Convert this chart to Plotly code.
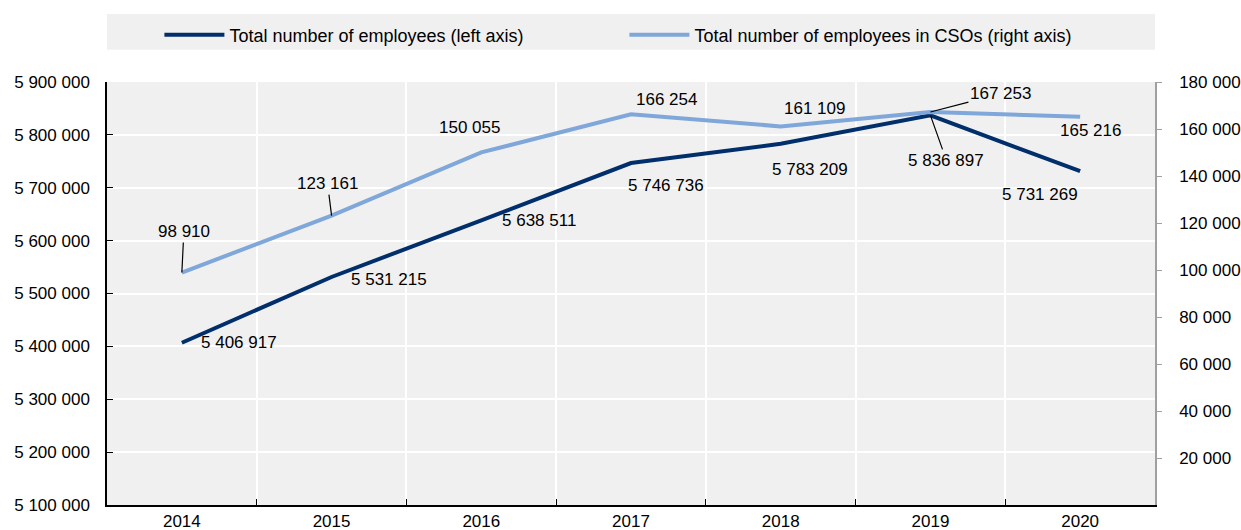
import plotly.graph_objects as go

# Data
years = ["2014", "2015", "2016", "2017", "2018", "2019", "2020"]
total_employees = [5406917, 5531215, 5638511, 5746736, 5783209, 5836897, 5731269]
cso_employees = [98910, 123161, 150055, 166254, 161109, 167253, 165216]

left_ticks = [5100000, 5200000, 5300000, 5400000, 5500000, 5600000, 5700000, 5800000, 5900000]
right_ticks = [20000, 40000, 60000, 80000, 100000, 120000, 140000, 160000, 180000]

# Style
DARK = "#002F6C"
LIGHT = "#7FA7D9"
BG = "#F0F0F0"
FONT = "Liberation Sans, Arial, sans-serif"
FS = 17

# Label placement (pixel offsets, screen coords: +dx right, +dy down); leader = draw a connector
total_label_style = [
    (57, 0, False), (57, 2, False), (58, 0, False), (35, 22, False),
    (29, 26, False), (16, 45, True), (-40, 23, False),
]
cso_label_style = [
    (2, -41, True), (-4, -32, True), (-12, -25, False), (35, -15, False),
    (34, -18, False), (70, -18, True), (10, 14, False),
]


def fmt(v):
    return f"{v:,}".replace(",", " ")


xpos = list(range(len(years)))
boundaries = [i + 0.5 for i in xpos[:-1]]

fig = go.Figure()
fig.add_trace(go.Scatter(
    x=xpos, y=total_employees, mode="lines", name="Total number of employees (left axis)",
    line=dict(color=DARK, width=4), yaxis="y",
))
fig.add_trace(go.Scatter(
    x=xpos, y=cso_employees, mode="lines", name="Total number of employees in CSOs (right axis)",
    line=dict(color=LIGHT, width=4), yaxis="y2",
))

annotations = []
for series, yref, style in ((total_employees, "y", total_label_style),
                            (cso_employees, "y2", cso_label_style)):
    for xi, v, (dx, dy, leader) in zip(xpos, series, style):
        ann = dict(x=xi, y=v, xref="x", yref=yref, text=fmt(v),
                   font=dict(family=FONT, size=FS, color="black"))
        if leader:
            ann.update(showarrow=True, arrowhead=0, arrowwidth=1.2, arrowcolor="black",
                       ax=dx, ay=dy)
        else:
            ann.update(showarrow=False, xshift=dx, yshift=-dy)
        annotations.append(ann)

fig.update_layout(
    width=1241, height=530,
    margin=dict(l=107, r=86, t=82, b=25),
    paper_bgcolor="white", plot_bgcolor=BG,
    separators=". ",
    font=dict(family=FONT, size=FS, color="black"),
    showlegend=True,
    legend=dict(
        orientation="h", x=0.05, xanchor="left", y=1.155, yanchor="top",
        bgcolor="rgba(0,0,0,0)", itemwidth=60, entrywidth=390, entrywidthmode="pixels",
        font=dict(family=FONT, size=18, color="black"), itemclick=False,
    ),
    shapes=[dict(
        type="rect", xref="paper", yref="paper", x0=0, x1=1, y0=1.076, y1=1.161,
        fillcolor=BG, line=dict(width=0), layer="below",
    )],
    xaxis=dict(
        range=[-0.5, 6.5], tickvals=xpos, ticktext=years, automargin=False,
        showgrid=False, zeroline=False,
        showline=True, linecolor="black", linewidth=1.5, ticks="",
        minor=dict(tickvals=boundaries, showgrid=True, gridcolor="white", gridwidth=1.5,
                   ticks="inside", ticklen=6, tickcolor="black"),
        tickfont=dict(family=FONT, size=FS),
    ),
    yaxis=dict(
        range=[5100000, 5900000], tickvals=left_ticks, tickformat=",d", automargin=False,
        showgrid=True, gridcolor="white", gridwidth=1.5, zeroline=False,
        showline=True, linecolor="black", linewidth=1.5,
        ticks="inside", ticklen=6, tickcolor="black",
        ticklabelstandoff=12,
        tickfont=dict(family=FONT, size=FS),
    ),
    yaxis2=dict(
        range=[0, 180000], tickvals=right_ticks, tickformat=",d", automargin=False,
        overlaying="y", side="right", showgrid=False, zeroline=False,
        showline=True, linecolor="#A0A0A0", linewidth=1.5,
        ticks="outside", ticklen=5, tickcolor="#A0A0A0",
        ticklabelstandoff=14,
        tickfont=dict(family=FONT, size=FS),
    ),
    annotations=annotations,
)

fig.write_html("out.html")
